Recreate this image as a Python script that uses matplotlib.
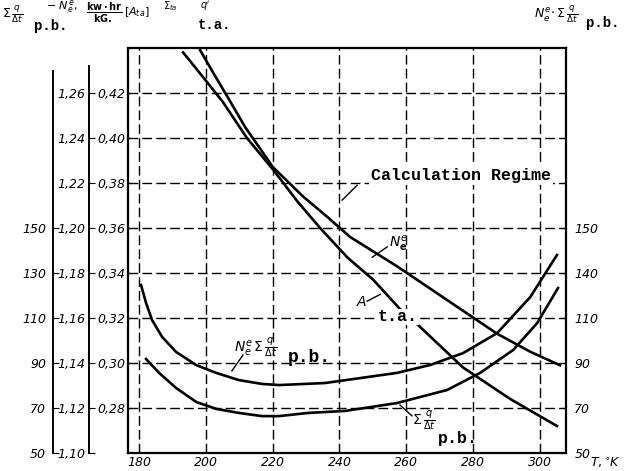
import matplotlib
matplotlib.use("Agg")
import matplotlib.pyplot as plt

# Temperature axis, K
temp_ticks = [180, 200, 220, 240, 260, 280, 300]

# A_t.a. curve (inner left scale, 0.28 .. 0.42)
t_a = [193.2, 199.2, 205.1, 212.3, 220.1, 227.3, 234.2, 242.3, 250.1, 258.1, 262.0, 277.0,
       291.1, 305.1]
a_ta = [0.438, 0.427, 0.416, 0.400, 0.386, 0.372, 0.360, 0.347, 0.337, 0.324, 0.319, 0.298,
        0.284, 0.272]

# N_e^e curve, kw*hr/kG (middle left scale, 1.10 .. 1.26)
t_ne = [198.3, 202.2, 206.6, 211.7, 220.1, 229.1, 236.3, 243.2, 257.2, 272.2, 287.2, 297.1, 306.0]
ne = [1.279, 1.269, 1.258, 1.245, 1.227, 1.214, 1.205, 1.196, 1.183, 1.168, 1.153, 1.145, 1.139]

# N_e^e * sum q/dt p.b. (right scale)
t_ne_q = [180.6, 182.1, 183.9, 186.9, 191.1, 197.1, 203.1, 209.9, 216.8, 221.9, 235.7, 257.2,
          267.1, 277.0, 287.2, 297.1, 305.1]
ne_q = [124.7, 116.7, 109.1, 101.6, 94.9, 89.1, 85.6, 82.4, 80.7, 80.2, 81.1, 85.6,
        89.1, 94.4, 103.3, 119.3, 138.0]

# sum q/dt p.b. (outer left scale)
t_q = [182.1, 186.0, 191.1, 197.1, 203.1, 209.9, 216.8, 221.9, 230.6, 241.7, 257.2, 272.2,
       282.1, 292.0, 299.2, 305.4]
q_pb = [91.8, 85.6, 78.9, 72.7, 69.6, 67.8, 66.4, 66.4, 67.8, 68.7, 72.2, 78.0,
        85.6, 95.8, 107.8, 123.3]

a_ticks = [0.28, 0.30, 0.32, 0.34, 0.36, 0.38, 0.40, 0.42]
a_labels = ["0,28", "0,30", "0,32", "0,34", "0,36", "0,38", "0,40", "0,42"]
ne_ticks = [1.10, 1.12, 1.14, 1.16, 1.18, 1.20, 1.22, 1.24, 1.26]
ne_labels = ["1,10", "1,12", "1,14", "1,16", "1,18", "1,20", "1,22", "1,24", "1,26"]
q_ticks = [50, 70, 90, 110, 130, 150]
q_labels = ["50", "70", "90", "110", "130", "150"]
r_labels = ["50", "70", "90", "110", "140", "150"]

W, H = 630, 471
MONO = "Liberation Mono"


def fx(x, y):
    """ Pixel position to figure fraction. """
    return x / W, 1 - y / H


def clean_twin(tw):
    for s in ["top", "bottom", "right", "left"]:
        tw.spines[s].set_visible(False)
    tw.patch.set_visible(False)


fig = plt.figure(figsize=(6.3, 4.71), dpi=100)
ax = fig.add_axes([128 / W, 18 / H, 438 / W, 405 / H])
ax.set_xlim(176.7, 307.8)
ax.set_ylim(0.26, 0.44)
for s in ax.spines.values():
    s.set_linewidth(1.6)

ax.set_xticks(temp_ticks)
ax.set_xticklabels([str(t) for t in temp_ticks], fontstyle="italic", fontsize=9)
ax.set_yticks(a_ticks)
ax.set_yticklabels(a_labels, fontstyle="italic", fontsize=9)
ax.tick_params(direction="in", length=3, pad=2)
ax.grid(True, color="black", lw=1.0, ls=(0, (7, 3)))

# middle left scale
ax_ne = ax.twinx()
clean_twin(ax_ne)
ax_ne.set_ylim(1.10, 1.28)
ax_ne.spines["left"].set_visible(True)
ax_ne.spines["left"].set_position(("outward", 28))
ax_ne.spines["left"].set_bounds(1.10, 1.272)
ax_ne.spines["left"].set_linewidth(1.4)
ax_ne.yaxis.tick_left()
ax_ne.set_yticks(ne_ticks)
ax_ne.set_yticklabels(ne_labels, fontstyle="italic", fontsize=9)
ax_ne.tick_params(direction="in", length=4, pad=3)

# outer left scale
ax_q = ax.twinx()
clean_twin(ax_q)
ax_q.set_ylim(50, 230)
ax_q.spines["left"].set_visible(True)
ax_q.spines["left"].set_position(("outward", 54))
ax_q.spines["left"].set_bounds(50, 220)
ax_q.spines["left"].set_linewidth(1.4)
ax_q.yaxis.tick_left()
ax_q.set_yticks(q_ticks)
ax_q.set_yticklabels(q_labels, fontstyle="italic", fontsize=9)
ax_q.tick_params(direction="in", length=4, pad=5)

# right scale
ax_r = ax.twinx()
clean_twin(ax_r)
ax_r.set_ylim(50, 230)
ax_r.set_yticks(q_ticks)
ax_r.set_yticklabels(r_labels, fontstyle="italic", fontsize=9)
ax_r.tick_params(direction="in", length=3, pad=6)

# curves
ax.plot(t_a, a_ta, color="black", lw=1.9)
ax_ne.plot(t_ne, ne, color="black", lw=1.9)
ax_r.plot(t_ne_q, ne_q, color="black", lw=1.9)
ax_q.plot(t_q, q_pb, color="black", lw=1.9)

# labels on the plot
ax.text(276.4, 0.3835, "Calculation Regime", family=MONO, weight="bold", fontsize=12,
        ha="center", va="center", bbox=dict(facecolor="white", edgecolor="none", pad=1.5))
ax.plot([240.8, 245.3], [0.3724, 0.379], color="black", lw=1.0)

ax.text(257.5, 0.353, r"$N_{\mathbf{e}}^{e}$", fontsize=10, ha="center", va="center")
ax.plot([249.8, 254.3], [0.347, 0.3516], color="black", lw=1.0)

ax.text(246.5, 0.327, r"$A$", fontsize=10, ha="center", va="center")
ax.plot([248.3, 252.2], [0.3275, 0.3305], color="black", lw=1.0)
ax.text(251.5, 0.3205, "t.a.", family=MONO, weight="bold", fontsize=12, va="center",
        bbox=dict(facecolor="white", edgecolor="none", pad=0.5))

ax.text(208.5, 0.307, r"$N_e^e\,\Sigma\,\frac{q}{\Delta t}$", fontsize=10, va="center")
ax.text(224.5, 0.3025, "p.b.", family=MONO, weight="bold", fontsize=13, va="center")
ax.plot([207.8, 211.1], [0.2965, 0.3035], color="black", lw=1.0)

ax.text(261.8, 0.2745, r"$\Sigma\,\frac{q}{\Delta t}$", fontsize=10, va="center")
ax.text(269.5, 0.2665, "p.b.", family=MONO, weight="bold", fontsize=12, va="center")
ax.plot([258.1, 261.7], [0.2813, 0.2765], color="black", lw=1.0)

# axis titles above the plot
fig.text(*fx(2, 14), r"$\Sigma\,\frac{q}{\Delta t}$", fontsize=9, va="center")
fig.text(*fx(34, 26), "p.b.", family=MONO, weight="bold", fontsize=10, va="center")
fig.text(*fx(46, 7), r"$-\ N_e^e,$", fontsize=8, va="center")
fig.text(*fx(86, 13), r"$\frac{\mathbf{kw\cdot hr}}{\mathbf{kG.}}$", fontsize=10, va="center")
fig.text(*fx(124, 12), r"$[A_{ta}]$", fontsize=8, va="center")
fig.text(*fx(163, 6), r"$\Sigma_{ta}$", fontsize=7, va="center")
fig.text(*fx(200, 6), r"$q'$", fontsize=7, va="center")
fig.text(*fx(198, 25), "t.a.", family=MONO, weight="bold", fontsize=10, va="center")

fig.text(*fx(534, 14), r"$N_e^e\!\cdot\Sigma\,\frac{q}{\Delta t}$", fontsize=9, va="center")
fig.text(*fx(586, 23), "p.b.", family=MONO, weight="bold", fontsize=10, va="center")

fig.text(*fx(590, 463), r"$T,^{\circ}K$", fontsize=9, va="center")

fig.savefig("out.png", dpi=100)
